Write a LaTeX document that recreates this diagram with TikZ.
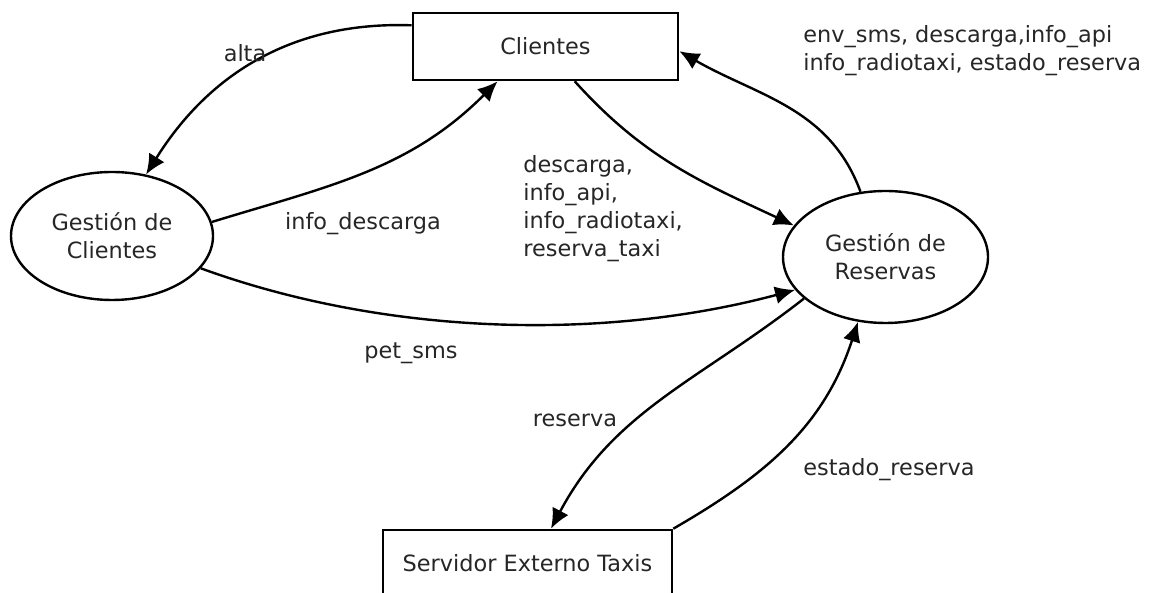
\documentclass[tikz,border=0pt]{standalone}
\usepackage{fontspec}
\setmainfont{DejaVu Sans}
\usetikzlibrary{arrows.meta,shapes.geometric}

\begin{document}
\begin{tikzpicture}[
    x=0.5pt, y=0.5pt,
    font=\fontsize{11.2}{14}\selectfont,
    extbox/.style={draw, line width=1.3pt, minimum height=33.5pt, inner sep=0pt, text=black!85},
    procnode/.style={draw, ellipse, line width=1.2pt, align=center, inner sep=0pt, text=black!85},
    flowlabel/.style={text=black!85, align=left, inner sep=0pt},
    arrow/.style={-{Latex[length=10pt,width=9pt]}, line width=1.2pt}
]
\useasboundingbox (0,0) rectangle (1149,593);

% Entities
\node[extbox, minimum width=132.5pt] (cli) at (545.5,546.5) {Clientes};
\node[extbox, minimum width=144.5pt] (srv) at (527.5,29.5) {Servidor Externo Taxis};

% Processes
\node[procnode, minimum width=101pt, minimum height=64pt] (gcli) at (112,357) {Gestión de\\Clientes};
\node[procnode, minimum width=102.5pt, minimum height=66pt] (gres) at (885.5,336) {Gestión de\\Reservas};

% Flows
\draw[arrow] (cli.171) to[out=178, in=58] (gcli.61);
\draw[arrow] (gcli.8) to[out=17, in=225] (cli.216);
\draw[arrow] (cli.-50) to[out=-48, in=155] (gres.161);
\draw[arrow] (gres.111) to[out=110, in=-30] (cli.-2);
\draw[arrow] (gcli.-20) to[out=-20, in=195, looseness=0.85] (gres.200);
\draw[arrow] (gres.207) to[out=218, in=62] (srv.56);
\draw[arrow] (srv.north east) to[out=30, in=-108] (gres.-113);

% Labels
\node[flowlabel] (lalta) at (245,540) {alta};
\node[flowlabel] (ldesc) at (363,369) {info\_descarga};
\node[flowlabel, anchor=west] (lres) at (523,384) {descarga,\\info\_api,\\info\_radiotaxi,\\reserva\_taxi};
\node[flowlabel, anchor=west] (lsms) at (803,542) {env\_sms, descarga,info\_api\\info\_radiotaxi, estado\_reserva};
\node[flowlabel] (lpet) at (411,240) {pet\_sms};
\node[flowlabel] (lreserva) at (575,173) {reserva};
\node[flowlabel] (lestado) at (889,123) {estado\_reserva};
\end{tikzpicture}
\end{document}
